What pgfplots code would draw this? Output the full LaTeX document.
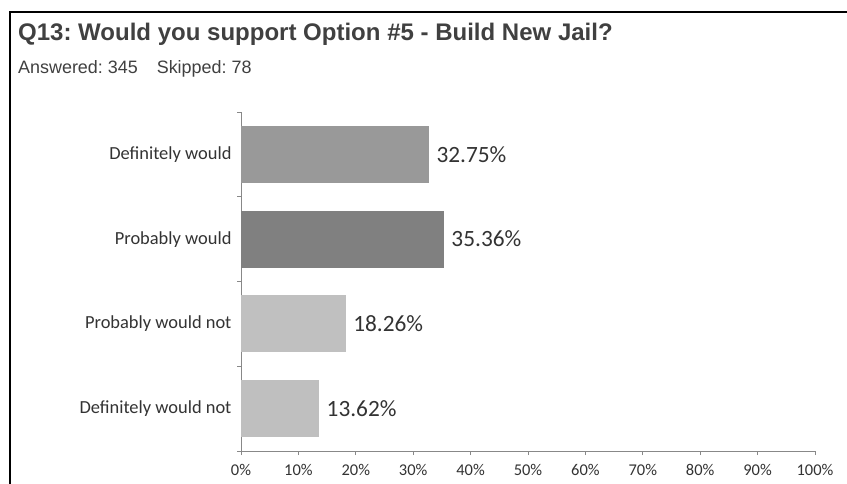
\documentclass[border=0pt]{standalone}
\usepackage{fontspec}
\setmainfont{Carlito}
\newfontfamily\arialfont{Liberation Sans}
\usepackage{pgfplots}
\pgfplotsset{compat=1.18}
\definecolor{cA}{HTML}{999999}
\definecolor{cB}{HTML}{808080}
\definecolor{cC}{HTML}{C0C0C0}
\definecolor{cD}{HTML}{BFBFBF}
\definecolor{axisgray}{HTML}{888888}
\definecolor{txt}{HTML}{333333}
\definecolor{ttl}{HTML}{404040}
\frenchspacing
\begin{document}
\begin{tikzpicture}
\useasboundingbox (0,0) rectangle (847bp,-484bp);
\fill[white] (0,0) rectangle (847bp,-484bp);
\draw[black, line width=2bp] (10bp,-484bp) -- (10bp,-12bp) -- (847bp,-12bp);
\node[anchor=base west, inner sep=0pt, text=ttl] at (18bp,-40bp)
  {\arialfont\bfseries\fontsize{24.1}{27}\selectfont Q13: Would you support Option \#5 - Build New Jail?};
\node[anchor=base west, inner sep=0pt, text=ttl] at (18bp,-73bp)
  {\arialfont\fontsize{18}{21}\selectfont Answered: 345\hspace{19bp}Skipped: 78};
\begin{axis}[
  at={(241bp,-451bp)}, anchor=south west,
  scale only axis, width=574bp, height=339bp,
  xbar, bar width=57bp, bar shift=0pt,
  xmin=0, xmax=100, ymin=-0.5, ymax=3.5,
  axis lines*=left,
  axis line style={draw=axisgray, line width=0.8bp},
  xtick={0,10,...,100},
  xticklabel={\pgfmathprintnumber{\tick}\%},
  /pgf/number format/assume math mode=true,
  ytick={0,1,2,3},
  yticklabels={Definitely would not, Probably would not, Probably would, Definitely would},
  minor ytick={-0.5,0.5,1.5,2.5,3.5},
  tick align=outside,
  major tick length=4bp, minor tick length=4bp,
  x tick style={draw=axisgray, line width=0.8bp},
  y tick style={draw=none},
  minor y tick style={draw=axisgray, line width=0.8bp},
  xticklabel style={font=\fontsize{16.5}{19}\selectfont, text=txt, yshift=-6bp},
  yticklabel style={font=\fontsize{18.5}{22}\selectfont, text=txt, xshift=-2bp},
  point meta=x,
  nodes near coords={\pgfmathprintnumber[fixed,precision=2,fixed zerofill]{\pgfplotspointmeta}\%},
  every node near coord/.append style={font=\fontsize{23.4}{26}\selectfont, text=txt, anchor=west, xshift=4bp},
]
\addplot[fill=cD, draw=none] coordinates {(13.62,0)};
\addplot[fill=cC, draw=none] coordinates {(18.26,1)};
\addplot[fill=cB, draw=none] coordinates {(35.36,2)};
\addplot[fill=cA, draw=none] coordinates {(32.75,3)};
\end{axis}
\end{tikzpicture}
\end{document}
